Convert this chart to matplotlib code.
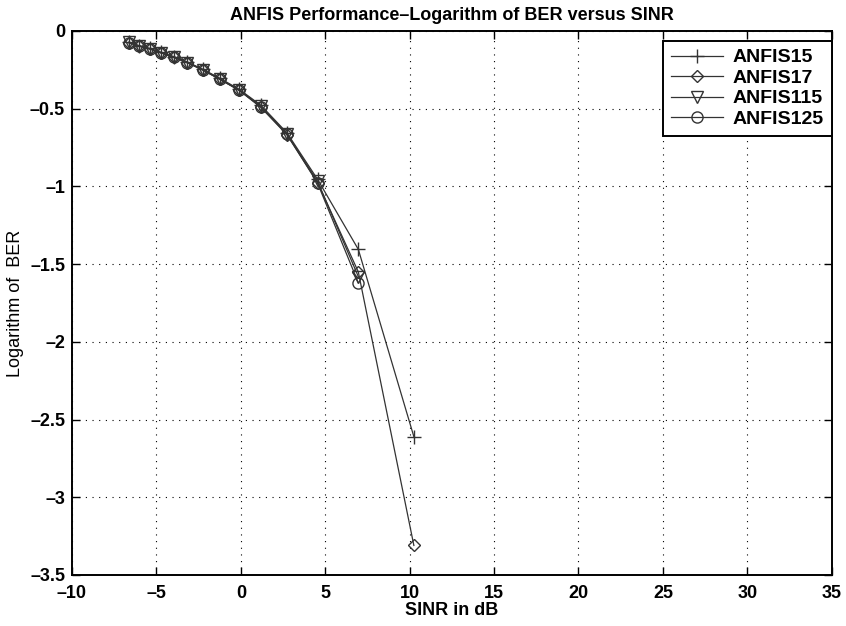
import matplotlib
matplotlib.use('Agg')
import matplotlib.pyplot as plt

plt.rcParams['font.family'] = ['Liberation Sans', 'DejaVu Sans']

# SINR (dB) points
sinr_long = [-6.63, -6.04, -5.40, -4.71, -3.96, -3.16, -2.24, -1.23, -0.10, 1.19, 2.73, 4.55, 6.96, 10.25]
sinr_short = sinr_long[:13]

ber15 = [-0.072, -0.094, -0.112, -0.138, -0.165, -0.200, -0.247, -0.305, -0.375, -0.478, -0.655, -0.955, -1.405, -2.61]
ber17 = [-0.076, -0.097, -0.116, -0.142, -0.170, -0.205, -0.252, -0.312, -0.382, -0.492, -0.668, -0.975, -1.55, -3.31]
ber115 = [-0.074, -0.095, -0.114, -0.140, -0.168, -0.203, -0.250, -0.310, -0.380, -0.485, -0.662, -0.968, -1.58]
ber125 = [-0.075, -0.096, -0.115, -0.141, -0.169, -0.204, -0.251, -0.311, -0.381, -0.488, -0.664, -0.980, -1.62]

xticks = [-10, -5, 0, 5, 10, 15, 20, 25, 30, 35]
yticks = [-3.5, -3, -2.5, -2, -1.5, -1, -0.5, 0]

fig = plt.figure(figsize=(8.46, 6.26), dpi=100)
ax = fig.add_axes([0.0851, 0.0815, 0.898, 0.869])

lc = '#333333'
ax.plot(sinr_long, ber15, color=lc, lw=0.9, marker='+', ms=10, mew=1, mec=lc, label='ANFIS15')
ax.plot(sinr_long, ber17, color=lc, lw=0.9, marker='D', ms=6.5, mfc='none', mec=lc, label='ANFIS17')
ax.plot(sinr_short, ber115, color=lc, lw=0.9, marker='v', ms=8, mfc='none', mec=lc, label='ANFIS115')
ax.plot(sinr_short, ber125, color=lc, lw=0.9, marker='o', ms=8, mfc='none', mec=lc, label='ANFIS125')

ax.set_xlim(-10, 35)
ax.set_ylim(-3.5, 0)
ax.set_xticks(xticks)
ax.set_yticks(yticks)
ax.set_xticklabels([str(v).replace('-', '\u2013') for v in xticks])
ax.set_yticklabels([('%g' % v).replace('-', '\u2013') for v in yticks])
ax.tick_params(direction='in', top=True, right=True, length=6, labelsize=13, width=1)
ax.tick_params(axis='x', pad=7)
ax.tick_params(axis='y', pad=5)
for lab in ax.get_xticklabels() + ax.get_yticklabels():
    lab.set_fontweight('bold')
ax.grid(True, color='black', linestyle=(0, (1, 5)), linewidth=0.8)
for s in ax.spines.values():
    s.set_linewidth(1.4)

ax.set_title('ANFIS Performance\u2013Logarithm of BER versus SINR', fontsize=13, fontweight='bold', pad=8)
ax.set_xlabel('SINR in dB', fontsize=13, fontweight='bold', labelpad=0)
ax.set_ylabel('Logarithm of  BER', fontsize=13, labelpad=4)

leg = ax.legend(loc='upper right', bbox_to_anchor=(1.0, 1 - 10 / 544), prop={'weight': 'bold', 'size': 14},
                fancybox=False, edgecolor='black', framealpha=1, handlelength=2.7,
                borderaxespad=0, labelspacing=0.15, borderpad=0.4, handletextpad=0.5)
leg.get_frame().set_linewidth(1.4)

fig.savefig('out.png', dpi=100)
